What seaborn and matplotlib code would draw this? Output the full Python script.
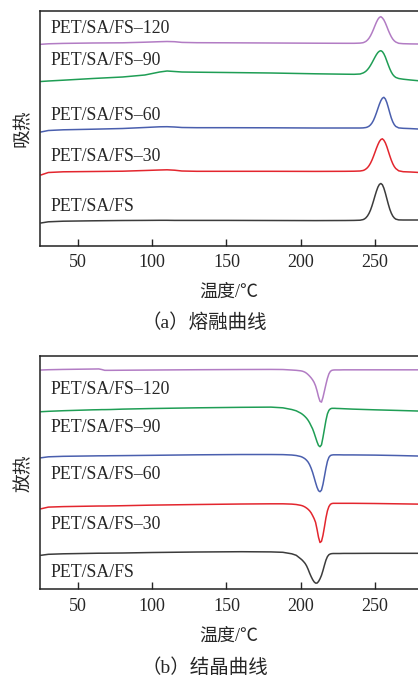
import matplotlib
matplotlib.use("Agg")
import matplotlib.pyplot as plt
import seaborn as sns

# temperature grids (°C)
melt_T = [25, 30, 40, 60, 80, 95, 105, 110, 115, 120, 130, 150, 180, 210, 230, 236, 240,
          242, 243, 244, 245, 246, 247, 248, 249, 250, 251, 252, 253, 254, 255, 256, 257,
          258, 259, 260, 261, 262, 263, 264, 266, 269, 274, 279]
cryst_T = [25, 30, 40, 60, 64, 66, 68, 72, 80, 100, 130, 160, 180, 188, 194, 197, 200,
           201, 202, 203, 204, 205, 206, 207, 208, 209, 210, 211, 212, 213, 214, 215, 216,
           217, 218, 219, 220, 221, 222, 223, 224, 226, 229, 235, 250, 265, 279]

# melting curves (heat flow, shifted, arbitrary units)
melt_fs = [2.30, 2.42, 2.48, 2.52, 2.55, 2.56, 2.57, 2.57, 2.56, 2.56, 2.56, 2.56, 2.55, 2.54, 2.55, 2.56, 2.58,
           2.64, 2.71, 2.83, 3.01, 3.26, 3.59, 4.01, 4.49, 5.00, 5.48, 5.89, 6.16, 6.25, 6.13, 5.79, 5.30,
           4.74, 4.18, 3.68, 3.29, 3.00, 2.81, 2.69, 2.61, 2.60, 2.60, 2.60]
melt_30 = [7.10, 7.35, 7.42, 7.45, 7.48, 7.55, 7.60, 7.62, 7.58, 7.50, 7.47, 7.47, 7.47, 7.46, 7.47, 7.48, 7.50,
           7.55, 7.61, 7.71, 7.84, 8.03, 8.28, 8.59, 8.96, 9.36, 9.77, 10.14, 10.45, 10.65, 10.72, 10.58, 10.32,
           9.94, 9.48, 9.02, 8.59, 8.23, 7.95, 7.75, 7.52, 7.43, 7.40, 7.36]
melt_60 = [11.40, 11.55, 11.62, 11.68, 11.75, 11.85, 11.92, 11.93, 11.90, 11.85, 11.83, 11.83, 11.82, 11.80, 11.80, 11.80, 11.80,
           11.81, 11.83, 11.85, 11.90, 11.98, 12.11, 12.30, 12.56, 12.91, 13.31, 13.75, 14.18, 14.54, 14.78, 14.87, 14.71,
           14.35, 13.85, 13.31, 12.81, 12.42, 12.14, 11.96, 11.81, 11.77, 11.74, 11.70]
melt_90 = [16.45, 16.50, 16.58, 16.75, 16.90, 17.10, 17.40, 17.50, 17.45, 17.40, 17.38, 17.35, 17.30, 17.22, 17.18, 17.17, 17.20,
           17.30, 17.38, 17.49, 17.64, 17.83, 18.06, 18.32, 18.60, 18.88, 19.14, 19.35, 19.48, 19.53, 19.44, 19.22, 18.90,
           18.50, 18.10, 17.72, 17.40, 17.15, 16.98, 16.86, 16.75, 16.68, 16.60, 16.53]
melt_120 = [20.17, 20.22, 20.26, 20.30, 20.32, 20.38, 20.43, 20.45, 20.43, 20.36, 20.33, 20.32, 20.30, 20.28, 20.27, 20.27, 20.29,
            20.33, 20.39, 20.47, 20.60, 20.78, 21.02, 21.32, 21.66, 22.03, 22.38, 22.67, 22.86, 22.93, 22.81, 22.61, 22.31,
            21.95, 21.57, 21.23, 20.93, 20.69, 20.52, 20.40, 20.27, 20.23, 20.21, 20.20]

# crystallization curves
cryst_fs = [3.40, 3.50, 3.55, 3.60, 3.61, 3.61, 3.61, 3.62, 3.63, 3.68, 3.73, 3.76, 3.74, 3.70, 3.55, 3.40, 3.05,
            2.92, 2.76, 2.58, 2.33, 2.00, 1.62, 1.28, 0.98, 0.75, 0.62, 0.62, 0.78, 1.05, 1.40, 1.88, 2.42,
            2.92, 3.27, 3.46, 3.54, 3.57, 3.58, 3.58, 3.58, 3.58, 3.59, 3.59, 3.60, 3.60, 3.60]
cryst_30 = [8.05, 8.22, 8.27, 8.32, 8.33, 8.33, 8.33, 8.34, 8.36, 8.42, 8.48, 8.53, 8.55, 8.55, 8.52, 8.48, 8.40,
            8.36, 8.30, 8.22, 8.12, 8.00, 7.85, 7.65, 7.38, 7.08, 6.70, 6.00, 5.20, 4.68, 4.80, 5.40, 6.25,
            7.15, 7.85, 8.28, 8.50, 8.58, 8.60, 8.60, 8.60, 8.60, 8.60, 8.60, 8.58, 8.55, 8.52]
cryst_60 = [13.15, 13.25, 13.30, 13.34, 13.35, 13.35, 13.35, 13.36, 13.37, 13.40, 13.45, 13.48, 13.48, 13.47, 13.43, 13.38, 13.28,
            13.22, 13.14, 13.04, 12.90, 12.72, 12.46, 12.12, 11.70, 11.20, 10.68, 10.20, 9.86, 9.76, 9.92, 10.50, 11.30,
            12.12, 12.80, 13.20, 13.38, 13.43, 13.45, 13.45, 13.45, 13.45, 13.44, 13.44, 13.42, 13.38, 13.33]
cryst_90 = [17.76, 17.80, 17.86, 17.95, 17.96, 17.97, 17.97, 17.98, 18.02, 18.08, 18.15, 18.20, 18.22, 18.15, 17.98, 17.85, 17.62,
            17.52, 17.40, 17.26, 17.10, 16.90, 16.65, 16.35, 16.05, 15.65, 15.20, 14.75, 14.38, 14.26, 14.45, 15.20, 16.05,
            16.90, 17.55, 17.90, 18.05, 18.10, 18.10, 18.10, 18.09, 18.08, 18.06, 18.02, 17.95, 17.89, 17.83]
cryst_120 = [21.93, 21.96, 21.99, 22.03, 22.04, 21.98, 21.90, 21.90, 21.91, 21.93, 21.96, 21.98, 21.99, 21.98, 21.93, 21.90, 21.85,
             21.82, 21.77, 21.70, 21.60, 21.47, 21.32, 21.15, 20.95, 20.70, 20.35, 19.85, 19.25, 18.80, 18.72, 19.20, 19.85,
             20.50, 21.10, 21.55, 21.80, 21.90, 21.93, 21.94, 21.94, 21.94, 21.95, 21.95, 21.95, 21.95, 21.95]

names = ["PET/SA/FS", "PET/SA/FS\u201330", "PET/SA/FS\u201360", "PET/SA/FS\u201390", "PET/SA/FS\u2013120"]
colors = ["#3c3c3c", "#e3262e", "#4a5fae", "#1f9e55", "#b27cc4"]
melt_label_y = [3.93, 8.93, 13.1, 18.6, 21.73]
cryst_label_y = [1.66, 6.53, 11.53, 16.2, 20.03]

sns.set_style("ticks")
serif = ["Liberation Serif", "Noto Sans CJK SC"]
plt.rcParams["font.family"] = serif

fig = plt.figure(figsize=(4.18, 6.79), dpi=100)


def draw_panel(ax, T, curves, label_y, ymax):
    for vals, c in zip(curves, colors):
        sns.lineplot(x=T, y=vals, color=c, linewidth=1.1, ax=ax)
    for name, y in zip(names, label_y):
        ax.text(31.2, y, name, fontsize=12.8, va="center", ha="left", family=serif)
    ax.set_xlim(24.6, 279)
    ax.set_ylim(0, ymax)
    ax.set_xticks([50, 100, 150, 200, 250])
    ax.set_yticks([])
    ax.set_xlabel("")
    ax.set_ylabel("")
    ax.spines["right"].set_visible(False)
    for s in ["left", "top", "bottom"]:
        ax.spines[s].set_linewidth(1.1)
        ax.spines[s].set_color("#222222")
    ax.tick_params(axis="x", direction="in", length=5, width=1.0, pad=6,
                   labelsize=13, top=False)
    for lab in ax.get_xticklabels():
        lab.set_family(serif)


ax1 = fig.add_axes([0.0964, 0.6377, 0.9036, 0.3461])
draw_panel(ax1, melt_T, [melt_fs, melt_30, melt_60, melt_90, melt_120], melt_label_y, 23.5)

ax2 = fig.add_axes([0.0964, 0.1321, 0.9036, 0.3440])
draw_panel(ax2, cryst_T, [cryst_fs, cryst_30, cryst_60, cryst_90, cryst_120], cryst_label_y, 23.36)

fig.text(0.548, 0.569, "温度/\u2103", fontsize=13, ha="center", va="center", family=serif)
fig.text(0.488, 0.5247, "\uff08a\uff09熔融曲线", fontsize=14, ha="center", va="center", family=serif)
fig.text(0.055, 0.811, "吸热", fontsize=13.5, rotation=90, ha="center", va="center", family=serif)

fig.text(0.548, 0.0633, "温度/\u2103", fontsize=13, ha="center", va="center", family=serif)
fig.text(0.490, 0.0162, "\uff08b\uff09结晶曲线", fontsize=14, ha="center", va="center", family=serif)
fig.text(0.057, 0.303, "放热", fontsize=13.5, rotation=90, ha="center", va="center", family=serif)

fig.savefig("out.png", dpi=100)
